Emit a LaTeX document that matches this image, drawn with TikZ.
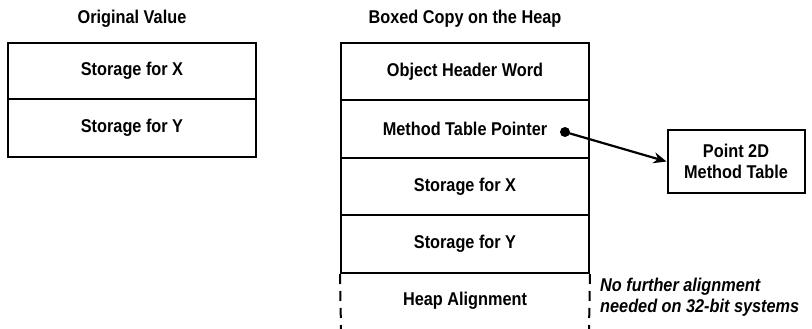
\documentclass[tikz,border=0pt]{standalone}
\usepackage{fontspec}
\setmainfont[FakeStretch=0.88]{Liberation Sans}
\usetikzlibrary{arrows.meta}
\begin{document}
\begin{tikzpicture}[x=1pt,y=-1pt,
  txt/.style={font=\fontsize{18.5}{21}\selectfont\bfseries},
  cell/.style={txt,draw,line width=2pt,minimum width=248pt,inner sep=0pt},
  title/.style={txt},
  note/.style={font=\fontsize{18.5}{20.5}\selectfont\bfseries\itshape,align=left,anchor=west,inner sep=0pt},
  tablebox/.style={txt,draw,line width=2pt,minimum width=137pt,minimum height=63pt,align=center},
  link/.style={line width=2.2pt,-{Stealth[length=13pt,width=11pt]}},
  dashside/.style={line width=2pt,dash pattern=on 10pt off 7pt}]
\useasboundingbox (0,0) rectangle (812,329);
% left column
\node[title] (t1) at (132,19) {Original Value};
\node[cell,minimum height=56pt] (lx) at (132,71) {Storage for X};
\node[cell,minimum height=58pt] (ly) at (132,128) {Storage for Y};
% right column
\node[title] (t2) at (465,19) {Boxed Copy on the Heap};
\node[cell,minimum height=57pt] (hdr) at (465,71.5) {Object Header Word};
\node[cell,minimum height=58pt] (mtp) at (465,129) {Method Table Pointer\hspace{24pt}};
\node[cell,minimum height=57pt] (sx) at (465,186.5) {Storage for X};
\node[cell,minimum height=58pt] (sy) at (465,244) {Storage for Y};
\node[txt] (ha) at (465,301) {Heap Alignment};
\coordinate (hbl) at (341,329);
\coordinate (hbr) at (589,329);
\draw[dashside] (sy.south west) -- (hbl);
\draw[dashside] (sy.south east) -- (hbr);
% pointer
\node[circle,fill,inner sep=0pt,minimum size=10pt] (dot) at (565,132) {};
\node[tablebox] (pt) at (736,161.5) {Point 2D\\Method Table};
\draw[link] (dot.center) -- (pt.west);
% note
\node[note] (nt) at (600,297) {No further alignment\\needed on 32-bit systems};
\end{tikzpicture}
\end{document}
